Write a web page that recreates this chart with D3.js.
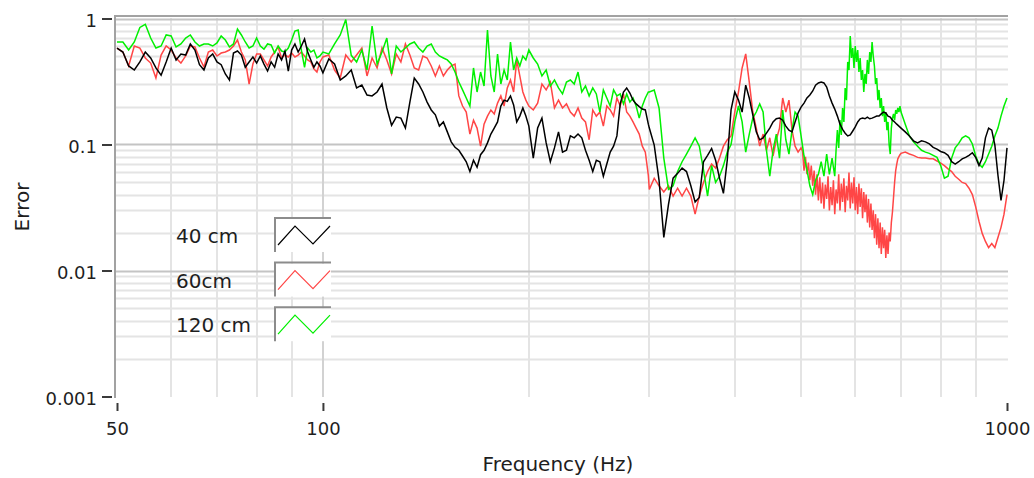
<!DOCTYPE html>
<html>
<head>
<meta charset="utf-8">
<script src="https://cdn.jsdelivr.net/npm/d3@7"></script>
<style>
  html, body { margin: 0; padding: 0; background: #ffffff; }
  svg { display: block; font-family: "DejaVu Sans", "Liberation Sans", sans-serif; }
</style>
</head>
<body>
<svg id="chart" width="1034" height="478"></svg>
<script>
// Frequency sample points (Hz) shared by the three measurements
const freqHz = [
  50,51,52,53,54,55,56,57,58,59,60,61,62,63,64,65,66,67,68,69,70,71,72,73,74,75,76,77,78,79,80,
  81,82,83,84,85,86,87,88,89,90,91,92,93,94,95,96,97,98,99,100,
  102,104,106,108,110,112,114,116,118,120,122,124,126,128,130,132,134,136,138,140,142,144,146,148,150,
  152,154,156,158,160,162,164,166,168,170,172,174,176,178,180,182,184,186,188,190,192,194,196,198,200,
  203,206,209,212,215,218,221,224,227,230,233,236,239,242,245,248,251,254,257,260,263,266,269,272,275,
  278,281,284,287,290,293,296,299,
  300,305,310,315,320,325,330,335,340,345,350,355,360,365,370,375,380,385,390,395,400,
  405,410,415,420,425,430,435,440,445,450,455,460,465,470,475,480,485,490,495,500,
  505,510,515,520,525,530,535,540,545,550,555,560,565,570,575,580,585,590,595,600,
  605,610,615,620,625,630,635,640,645,650,655,660,665,670,675,680,685,690,695,700,
  710,720,730,740,750,760,770,780,790,800,810,820,830,840,850,860,870,880,890,900,
  910,920,930,940,950,960,970,980,990,1000
];

// Error, 40 cm
const err40cm = [
  0.583,0.542,0.42,0.39,0.452,0.542,0.486,0.405,0.355,0.452,0.583,0.469,0.523,0.513,0.628,0.562,0.43,0.39,0.486,0.523,0.452,
  0.43,0.363,0.325,0.532,0.552,0.513,0.41,0.452,0.495,0.443,0.504,0.435,0.383,0.452,0.41,0.523,0.469,0.552,0.383,0.562,
  0.628,0.542,0.605,0.687,0.542,0.469,0.41,0.452,0.42,0.37,
  0.477,0.435,0.325,0.35,0.39,0.281,0.296,0.247,0.243,0.261,0.302,0.195,0.142,0.165,0.162,0.135,0.217,0.337,0.302,0.261,
  0.217,0.188,0.172,0.14,0.151,0.126,0.105,0.095,0.09,0.081,0.073,0.061,0.075,0.066,0.083,0.09,0.103,0.121,0.135,0.151,
  0.202,0.225,0.22,0.243,0.206,0.151,0.168,0.195,0.168,0.14,
  0.078,0.135,0.162,0.103,0.073,0.094,0.126,0.087,0.09,0.117,0.113,0.121,0.113,0.09,0.075,0.061,0.075,0.073,0.056,0.07,
  0.087,0.097,0.117,0.21,0.261,0.281,0.256,0.225,0.21,0.2,0.191,0.188,0.145,
  0.135,0.099,0.052,0.0183,0.0335,0.054,0.059,0.065,0.061,0.047,0.035,0.038,0.073,0.082,0.093,0.075,0.054,0.041,0.075,0.188,
  0.261,0.225,0.181,0.296,0.234,0.172,0.126,0.109,0.113,0.123,0.135,0.151,0.16,0.162,0.156,0.14,0.13,0.126,0.151,0.178,0.198,
  0.213,0.234,0.247,0.266,0.296,0.308,0.313,0.308,0.286,0.243,0.213,0.191,0.168,0.145,0.132,0.123,0.117,0.119,0.128,0.138,
  0.151,0.16,0.162,0.16,0.165,0.16,0.162,0.165,0.168,0.168,0.175,0.181,0.178,0.168,0.165,0.156,0.151,0.145,0.14,0.135,
  0.126,0.117,0.107,0.103,0.107,0.105,0.101,0.095,0.092,0.088,0.086,0.082,0.073,0.07,0.073,0.077,0.079,0.082,0.086,0.079,
  0.068,0.078,0.113,0.135,0.13,0.099,0.057,0.036,0.052,0.094
];

// Error, 60 cm
const err60cm = [
  0.583,0.542,0.42,0.605,0.583,0.486,0.443,0.337,0.513,0.605,0.562,0.486,0.443,0.504,0.605,0.594,0.486,0.412,0.542,0.562,0.504,
  0.532,0.542,0.562,0.605,0.675,0.542,0.469,0.302,0.435,0.523,0.523,0.469,0.42,0.495,0.542,0.594,0.486,0.513,0.495,0.532,
  0.495,0.513,0.542,0.504,0.469,0.452,0.398,0.376,0.452,0.495,
  0.513,0.39,0.337,0.513,0.452,0.513,0.583,0.35,0.486,0.405,0.583,0.469,0.363,0.523,0.452,0.628,0.513,0.405,0.39,0.504,
  0.486,0.42,0.35,0.42,0.35,0.39,0.42,0.435,0.243,0.202,0.181,0.121,0.156,0.135,0.097,0.145,0.168,0.188,0.175,0.213,
  0.243,0.202,0.281,0.325,0.261,0.469,0.35,0.261,0.225,0.202,
  0.188,0.213,0.302,0.271,0.313,0.195,0.225,0.195,0.21,0.181,0.168,0.195,0.162,0.151,0.109,0.188,0.168,0.181,0.14,0.202,
  0.188,0.168,0.234,0.202,0.252,0.181,0.168,0.151,0.135,0.121,0.097,0.087,0.057,
  0.044,0.054,0.047,0.042,0.047,0.039,0.045,0.039,0.045,0.039,0.028,0.039,0.05,0.061,0.07,0.065,0.078,0.097,0.109,0.117,
  0.181,0.261,0.405,0.523,0.313,0.181,0.135,0.097,0.121,0.09,0.113,0.081,0.109,0.135,0.234,0.181,0.225,0.13,0.097,0.087,0.094,
  0.069,0.087,0.056,0.075,0.042,0.061,0.039,0.056,0.034,0.05,0.032,0.047,0.030,0.049,0.035,0.056,0.036,0.054,0.035,0.058,
  0.034,0.05,0.032,0.045,0.027,0.036,0.0205,0.029,0.0176,0.0237,0.0147,0.0205,0.0136,0.0197,0.0246,0.036,0.052,0.069,0.078,0.084,
  0.087,0.084,0.082,0.079,0.078,0.078,0.077,0.077,0.074,0.071,0.068,0.064,0.061,0.056,0.053,0.05,0.049,0.045,0.04,0.032,
  0.0246,0.0197,0.017,0.0152,0.0164,0.0152,0.0183,0.022,0.028,0.04
];

// Error, 120 cm
const err120cm = [
  0.651,0.651,0.562,0.651,0.85,0.9,0.70,0.583,0.605,0.74,0.726,0.594,0.628,0.70,0.74,0.651,0.605,0.628,0.628,0.605,0.64,
  0.726,0.675,0.594,0.628,0.825,0.74,0.651,0.583,0.605,0.70,0.605,0.572,0.628,0.617,0.532,0.605,0.552,0.542,0.583,0.675,
  0.795,0.81,0.562,0.41,0.583,0.542,0.562,0.486,0.504,0.542,
  0.523,0.628,0.74,0.98,0.51,0.452,0.562,0.39,0.872,0.435,0.542,0.70,0.363,0.605,0.542,0.583,0.628,0.651,0.583,0.542,
  0.605,0.628,0.542,0.504,0.486,0.469,0.435,0.376,0.313,0.271,0.234,0.202,0.405,0.261,0.376,0.291,0.81,0.35,0.261,0.523,
  0.302,0.39,0.325,0.651,0.39,0.486,0.42,0.504,0.469,0.562,
  0.486,0.435,0.35,0.39,0.291,0.325,0.281,0.252,0.313,0.325,0.302,0.376,0.261,0.291,0.243,0.281,0.252,0.181,0.271,0.234,
  0.202,0.271,0.243,0.252,0.21,0.252,0.217,0.234,0.202,0.162,0.202,0.234,0.261,
  0.261,0.271,0.195,0.078,0.044,0.047,0.061,0.073,0.084,0.097,0.113,0.097,0.063,0.039,0.068,0.05,0.056,0.068,0.087,0.1,
  0.151,0.202,0.151,0.087,0.121,0.162,0.181,0.21,0.181,0.09,0.056,0.09,0.121,0.078,0.188,0.109,0.084,0.13,0.181,0.168,0.117,
  0.081,0.063,0.047,0.04,0.052,0.058,0.073,0.056,0.084,0.058,0.078,0.056,0.109,0.14,0.188,0.313,0.504,0.70,0.452,0.542,
  0.39,0.452,0.291,0.376,0.452,0.486,0.628,0.39,0.281,0.21,0.225,0.168,0.151,0.121,0.087,0.162,0.181,0.188,0.195,0.181,
  0.145,0.117,0.105,0.097,0.09,0.087,0.085,0.082,0.079,0.068,0.054,0.056,0.078,0.094,0.102,0.113,0.117,0.113,0.101,0.081,
  0.07,0.066,0.073,0.084,0.097,0.117,0.135,0.168,0.202,0.234
];

// Finer-resolution readings where the 60 cm trace is a dense noise band
const detail60Freq = [
  502.5,505,507.5,510,512.5,515,517.5,520,522.5,525,527.5,530,532.5,535,537.5,540,542.5,545,547.5,550,
  552.5,555,557.5,560,562.5,565,567.5,570,572.5,575,577.5,580,582.5,585,587.5,590,592.5,595,597.5,600,
  602.5,605,607.5,610,612.5,615,617.5,620,622.5,625,627.5,630,632.5,635,637.5,640,642.5,645,647.5,650,
  652.5,655,657.5,660,662.5,665,667.5,670,672.5,675,677.5,680,682.5,685,687.5,690,692.5,695,697.5,700
];
const detail60Err = [
  0.088,0.062,0.080,0.058,0.072,0.052,0.068,0.047,0.062,0.040,0.058,0.036,0.055,0.034,0.05,0.031,0.048,0.037,0.056,0.030,
  0.046,0.033,0.052,0.028,0.044,0.034,0.058,0.030,0.049,0.035,0.054,0.029,0.047,0.036,0.06,0.031,0.05,0.034,0.055,0.030,
  0.046,0.028,0.049,0.032,0.045,0.026,0.042,0.029,0.04,0.024,0.037,0.022,0.034,0.021,0.03,0.018,0.028,0.016,0.026,0.015,
  0.024,0.0135,0.022,0.015,0.021,0.0126,0.019,0.0135,0.02,0.017,0.024,0.029,0.038,0.05,0.062,0.07,0.077,0.08,0.083,0.085
];

// Finer-resolution readings for the 120 cm resonance peak
const detail120Freq = [
  562.5,565,567.5,570,572.5,575,577.5,580,582.5,585,587.5,590,592.5,595,597.5,600,602.5,605,607.5,610,
  612.5,615,617.5,620,622.5,625,627.5,630,632.5,635,637.5,640,642.5,645,647.5,650,652.5,655,657.5,660,
  662.5,665,667.5,670,672.5,675,677.5,680,682.5,685,687.5,690,692.5,695,697.5,700
];
const detail120Err = [
  0.09,0.13,0.094,0.156,0.119,0.195,0.151,0.281,0.225,0.452,0.39,0.726,0.486,0.583,0.405,0.605,0.452,0.562,0.376,0.486,
  0.325,0.39,0.261,0.363,0.302,0.469,0.363,0.542,0.452,0.651,0.504,0.42,0.302,0.337,0.225,0.271,0.195,0.234,0.168,0.202,
  0.151,0.181,0.13,0.151,0.1,0.084,0.135,0.162,0.175,0.156,0.188,0.175,0.195,0.181,0.202,0.181
];

const seriesNames = ["40 cm", "60cm", "120 cm"];
const seriesColors = ["#000000", "#ff4646", "#00f000"];

const yTickValues = [1, 0.1, 0.01, 0.001];
const yTickLabels = ["1", "0.1", "0.01", "0.001"];
const xTickValues = [50, 100, 1000];
const xTickLabels = ["50", "100", "1000"];

const svg = d3.select("#chart");

const x = d3.scaleLog().domain([50, 1000]).range([117, 1007]);
const y = d3.scaleLog().domain([0.001, 1]).range([396.5, 18.5]);

// ----- grid -----
const grid = svg.append("g").attr("class", "grid");
const minorY = [], majorY = [0.01, 0.1, 1];
[0.001, 0.01, 0.1].forEach(dec => { for (let m = 2; m <= 9; m++) minorY.push(m * dec); });
const minorX = [], majorX = [100];
[10, 100].forEach(dec => { for (let m = 2; m <= 9; m++) { const v = m * dec; if (v > 50 && v < 1000 && v !== 100) minorX.push(v); } });

grid.selectAll("line.hmin").data(minorY).join("line")
  .attr("x1", 116).attr("x2", 1008)
  .attr("y1", d => Math.round(y(d)) + 0.5).attr("y2", d => Math.round(y(d)) + 0.5)
  .attr("stroke", "#e4e4e4").attr("stroke-width", 2);
grid.selectAll("line.vmin").data(minorX).join("line")
  .attr("x1", d => Math.round(x(d))).attr("x2", d => Math.round(x(d)))
  .attr("y1", 18).attr("y2", 397)
  .attr("stroke", "#e4e4e4").attr("stroke-width", 2);
grid.selectAll("line.hmaj").data(majorY).join("line")
  .attr("x1", 116).attr("x2", 1008)
  .attr("y1", d => Math.round(y(d)) + 0.5).attr("y2", d => Math.round(y(d)) + 0.5)
  .attr("stroke", "#c4c4c4").attr("stroke-width", 2);
grid.selectAll("line.vmaj").data(majorX).join("line")
  .attr("x1", d => Math.round(x(d))).attr("x2", d => Math.round(x(d)))
  .attr("y1", 18).attr("y2", 397)
  .attr("stroke", "#d2d2d2").attr("stroke-width", 2);

// ----- frame -----
svg.append("path")
  .attr("d", "M115,398V16H1008")
  .attr("fill", "none").attr("stroke", "#a2a2a2").attr("stroke-width", 2);

// ----- curves -----
function buildPoints(vals, dFreq, dErr) {
  const lo = dFreq ? dFreq[0] : Infinity;
  const hi = dFreq ? dFreq[dFreq.length - 1] : -Infinity;
  const pts = freqHz.map((f, k) => ({ f, v: vals[k] })).filter(p => p.f < lo || p.f > hi);
  if (dFreq) dFreq.forEach((f, k) => pts.push({ f, v: dErr[k] }));
  return pts.sort((a, b) => a.f - b.f);
}
const series = [
  { name: seriesNames[0], color: seriesColors[0], points: buildPoints(err40cm) },
  { name: seriesNames[1], color: seriesColors[1], points: buildPoints(err60cm, detail60Freq, detail60Err) },
  { name: seriesNames[2], color: seriesColors[2], points: buildPoints(err120cm, detail120Freq, detail120Err) }
];
const line = d3.line().x(d => x(d.f)).y(d => y(d.v));
const drawOrder = [1, 2, 0];
svg.append("g").selectAll("path").data(drawOrder.map(i => series[i])).join("path")
  .attr("d", d => line(d.points))
  .attr("fill", "none")
  .attr("stroke", d => d.color)
  .attr("stroke-width", 1.5)
  .attr("stroke-linejoin", "miter");

// ----- axes -----
const yAxis = d3.axisLeft(y).tickValues(yTickValues)
  .tickFormat((d, i) => yTickLabels[i]).tickSize(10).tickPadding(5);
const gy = svg.append("g").attr("transform", "translate(112,0)").call(yAxis);
gy.select(".domain").remove();
gy.selectAll(".tick line").attr("stroke", "#3a3a3a").attr("stroke-width", 2);
gy.selectAll(".tick text").attr("fill", "#1e1e1e").attr("font-size", 18)
  .attr("font-family", "DejaVu Sans, sans-serif").attr("dy", "0.42em");

const xAxis = d3.axisBottom(x).tickValues(xTickValues)
  .tickFormat((d, i) => xTickLabels[i]).tickSize(8).tickPadding(11);
const gx = svg.append("g").attr("transform", "translate(0,403)").call(xAxis);
gx.select(".domain").remove();
gx.selectAll(".tick line").attr("stroke", "#3a3a3a").attr("stroke-width", 2);
gx.selectAll(".tick text").attr("fill", "#1e1e1e").attr("font-size", 18)
  .attr("font-family", "DejaVu Sans, sans-serif");

// axis titles
svg.append("text").attr("x", 558).attr("y", 471).attr("text-anchor", "middle")
  .attr("font-size", 20).attr("fill", "#1e1e1e").text("Frequency (Hz)");
svg.append("text").attr("transform", "translate(29,207) rotate(-90)").attr("text-anchor", "middle")
  .attr("font-size", 20).attr("fill", "#1e1e1e").text("Error");

// ----- legend -----
const legend = svg.append("g");
series.forEach((s, i) => {
  const top = 218 + i * 44.6;
  const g = legend.append("g").attr("transform", `translate(0,${top})`);
  g.append("text").attr("x", 176).attr("y", 18).attr("dominant-baseline", "central")
    .attr("font-size", 20).attr("fill", "#1e1e1e").text(s.name);
  g.append("rect").attr("x", 276).attr("y", 1).attr("width", 55).attr("height", 33).attr("fill", "#ffffff");
  g.append("path").attr("d", "M275,34V0H331").attr("fill", "none")
    .attr("stroke", "#8c8c8c").attr("stroke-width", 2);
  g.append("polyline").attr("points", "278,27 295,8 313,26 330,8")
    .attr("fill", "none").attr("stroke", s.color).attr("stroke-width", 1.2);
});
</script>
</body>
</html>
